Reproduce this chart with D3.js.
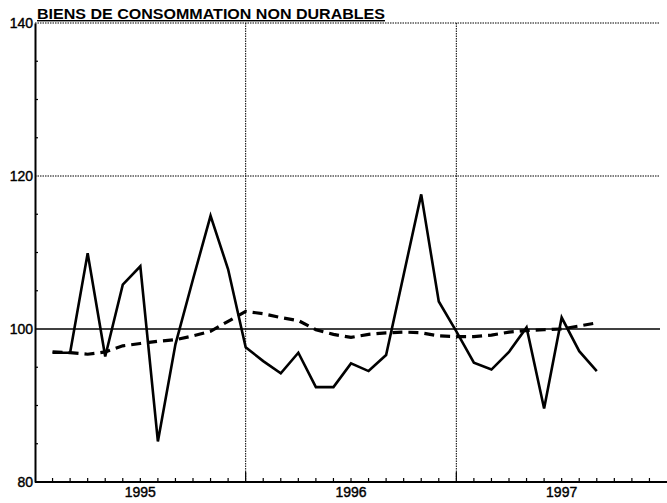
<!DOCTYPE html>
<html><head><meta charset="utf-8">
<script src="https://cdn.jsdelivr.net/npm/d3@7"></script>
<style>
body{margin:0;background:#fff;}
text{font-family:"Liberation Sans",Arial,sans-serif;fill:#000;}
</style></head>
<body><svg id="c" width="667" height="503"></svg>
<script>
const title = "BIENS DE CONSOMMATION NON DURABLES";
const yTicks = [80, 100, 120, 140];
const yearLabels = ["1995", "1996", "1997"];
// month index since Jan 1995 (Feb 1995 .. Sep 1997)
const months = d3.range(1, 33);
const actual = [96.9, 96.9, 109.9, 96.4, 105.8, 108.2, 85.3, 98.0, 106.5, 114.8, 107.8, 97.6,
  95.8, 94.2, 96.9, 92.4, 92.4, 95.5, 94.5, 96.6, 107.1, 117.6, 103.6, 99.7,
  95.6, 94.7, 97.0, 100.2, 89.6, 101.5, 97.1, 94.5];
const trend = [97.0, 96.9, 96.7, 97.0, 97.8, 98.1, 98.4, 98.6, 99.1, 99.7, 101.0, 102.3,
  102.0, 101.5, 101.1, 99.9, 99.3, 98.9, 99.3, 99.5, 99.6, 99.5, 99.1, 99.0,
  99.0, 99.2, 99.6, 99.8, 99.9, 100.0, 100.4, 100.8];

const svg = d3.select("#c");
const x = d3.scaleLinear().domain([0, 36]).range([35, 667]);
const y = d3.scaleLinear().domain([80, 140]).range([482, 23]);

// horizontal grid
svg.selectAll(".hg").data([120, 140]).enter().append("line")
  .attr("x1", x(0)).attr("x2", 660).attr("y1", d => y(d)).attr("y2", d => y(d))
  .attr("stroke", "#000").attr("stroke-width", 1).attr("stroke-dasharray", "1.5,1");
// reference 100 line
svg.append("line").attr("x1", x(0)).attr("x2", 660).attr("y1", y(100)).attr("y2", y(100))
  .attr("stroke", "#000").attr("stroke-width", 1.6);
// vertical grid
svg.selectAll(".vg").data([12, 24]).enter().append("line")
  .attr("x1", d => x(d)).attr("x2", d => x(d)).attr("y1", y(140)).attr("y2", y(80))
  .attr("stroke", "#000").attr("stroke-width", 1).attr("stroke-dasharray", "1.5,1");

// y axis
const yAxis = d3.axisLeft(y).tickValues(yTicks).tickSize(0).tickPadding(2);
const gy = svg.append("g").attr("transform", `translate(${x(0)},0)`).call(yAxis);
gy.select(".domain").attr("stroke", "#000").attr("stroke-width", 2);
gy.selectAll("text").attr("font-size", 14).attr("font-family", "Liberation Sans, Arial")
  .attr("fill", "#000").attr("stroke", "#000").attr("stroke-width", 0.4).attr("dy", "0.35em");
// minor y ticks inward
svg.selectAll(".ym").data(d3.range(85, 140, 5).filter(v => v % 20 !== 0)).enter().append("line")
  .attr("x1", x(0)).attr("x2", x(0) + 3).attr("y1", d => y(d)).attr("y2", d => y(d))
  .attr("stroke", "#000").attr("stroke-width", 1.2);

// x axis
svg.append("line").attr("x1", x(0)).attr("x2", 667).attr("y1", y(80)).attr("y2", y(80))
  .attr("stroke", "#000").attr("stroke-width", 2);
svg.selectAll(".xt").data(d3.range(1, 36)).enter().append("line")
  .attr("x1", d => x(d)).attr("x2", d => x(d)).attr("y1", y(80))
  .attr("y2", d => d % 12 === 0 ? y(80) - 10 : y(80) - 4)
  .attr("stroke", "#000").attr("stroke-width", 1.2);
svg.selectAll(".xl").data(yearLabels).enter().append("text")
  .attr("x", (d, i) => x(i * 12 + 6)).attr("y", 497).attr("text-anchor", "middle")
  .attr("font-size", 14).attr("stroke", "#000").attr("stroke-width", 0.4).text(d => d);

// title
svg.append("text").attr("x", 37).attr("y", 19).attr("font-size", 14).attr("font-weight", "bold")
  .attr("text-decoration", "underline").attr("textLength", 348).attr("lengthAdjust", "spacingAndGlyphs")
  .text(title);

// lines
const lineA = d3.line().x((d, i) => x(months[i])).y(d => y(d));
svg.append("path").datum(trend).attr("d", lineA).attr("fill", "none")
  .attr("stroke", "#000").attr("stroke-width", 3.2).attr("stroke-dasharray", "10,6");
svg.append("path").datum(actual).attr("d", lineA).attr("fill", "none")
  .attr("stroke", "#000").attr("stroke-width", 2.6).attr("stroke-linejoin", "miter");
</script></body></html>
